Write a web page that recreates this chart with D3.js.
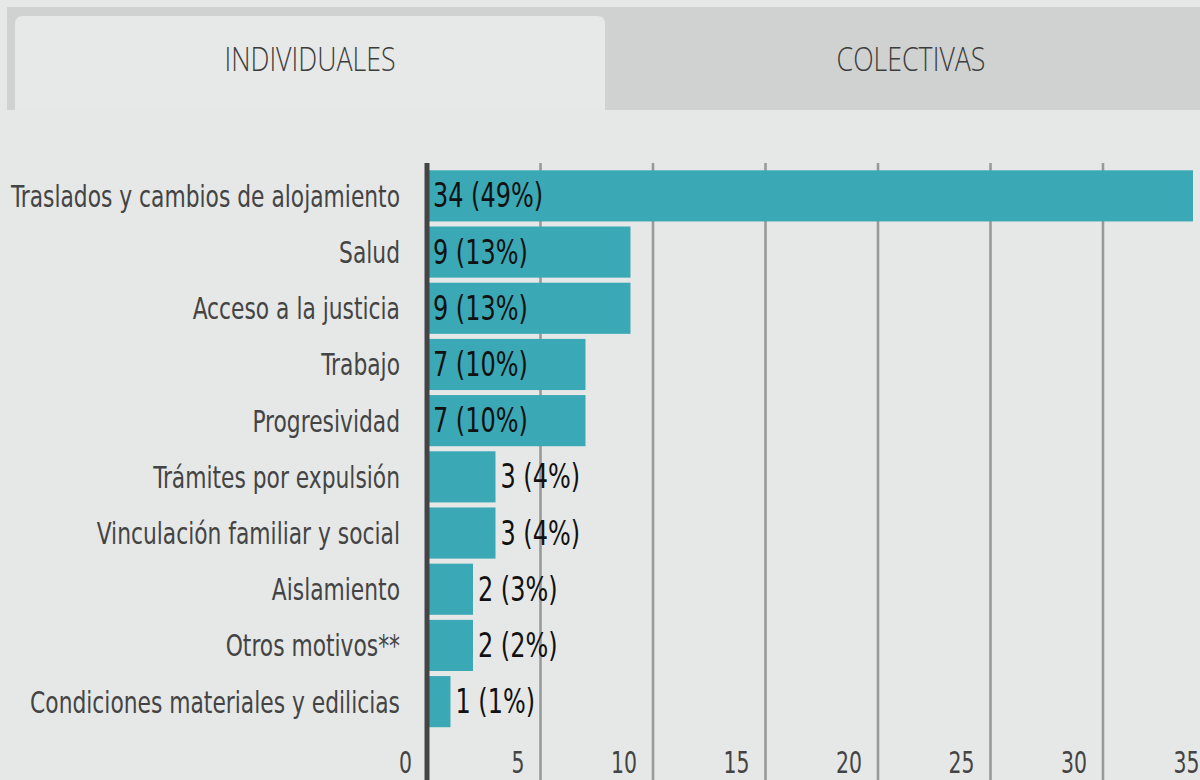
<!DOCTYPE html>
<html>
<head>
<meta charset="utf-8">
<script src="https://cdn.jsdelivr.net/npm/d3@7/dist/d3.min.js"></script>
<style>
  body { margin: 0; background: #e6e8e7; }
  svg { display: block; font-family: "DejaVu Sans Condensed", "DejaVu Sans", sans-serif; }
</style>
</head>
<body>
<div class="chartArea"></div>
<script>
  // chart data
  const categories = [
    "Traslados y cambios de alojamiento", "Salud", "Acceso a la justicia", "Trabajo",
    "Progresividad", "Trámites por expulsión", "Vinculación familiar y social",
    "Aislamiento", "Otros motivos**", "Condiciones materiales y edilicias"
  ];
  const values = [34, 9, 9, 7, 7, 3, 3, 2, 2, 1];
  const percents = [49, 13, 13, 10, 10, 4, 4, 3, 2, 1];
  const tickValues = [0, 5, 10, 15, 20, 25, 30, 35];
  const tabs = ["INDIVIDUALES", "COLECTIVAS"];

  const width = 1200, height = 780;
  const svg = d3.select(".chartArea").append("svg")
    .attr("width", width).attr("height", height);

  // squeeze a group of texts so that one sample text gets the wanted width
  function narrow(sel, sampleIndex, wanted) {
    const nodes = sel.nodes();
    const k = wanted / nodes[sampleIndex].getComputedTextLength();
    sel.each(function () {
      const w = this.getComputedTextLength();
      d3.select(this).attr("textLength", w * k).attr("lengthAdjust", "spacingAndGlyphs");
    });
  }

  // tabs
  svg.append("rect").attr("x", 7).attr("y", 7).attr("width", width - 7).attr("height", 103)
    .attr("fill", "#d0d2d1");
  svg.append("path")
    .attr("d", "M15,110 V24 Q15,16 23,16 H597 Q605,16 605,24 V110 Z")
    .attr("fill", "#e7e9e8");
  const tabText = svg.selectAll(".tab").data(tabs).enter().append("text")
    .attr("x", (d, i) => i === 0 ? 310 : 911)
    .attr("y", 71)
    .attr("text-anchor", "middle")
    .attr("font-family", "'Open Sans', sans-serif")
    .attr("font-weight", 300)
    .attr("font-size", 33.5)
    .attr("fill", "#3c3c3c")
    .text(d => d);
  narrow(tabText, 0, 171);

  // scales
  const x = d3.scaleLinear().domain([0, 35]).range([428, 1215.5]);
  const y = d3.scaleBand().domain(categories).range([167.5, 730]).paddingInner(0.09).paddingOuter(0.05);

  // grid lines
  svg.selectAll(".grid").data(tickValues.slice(1)).enter().append("line")
    .attr("x1", d => x(d)).attr("x2", d => x(d))
    .attr("y1", 163).attr("y2", height)
    .attr("stroke", "#999").attr("stroke-width", 2.6);

  // bars
  svg.selectAll(".bar").data(values).enter().append("rect")
    .attr("x", x(0))
    .attr("y", (d, i) => y(categories[i]))
    .attr("width", d => x(d) - x(0))
    .attr("height", y.bandwidth())
    .attr("fill", "#3ba8b5");

  // axis line
  svg.append("line").attr("x1", 427).attr("x2", 427).attr("y1", 163).attr("y2", height)
    .attr("stroke", "#444").attr("stroke-width", 5);

  // category labels
  const catText = svg.selectAll(".cat").data(categories).enter().append("text")
    .attr("x", 400)
    .attr("y", d => y(d) + y.bandwidth() / 2 + 11)
    .attr("text-anchor", "end")
    .attr("font-size", 31)
    .attr("fill", "#444")
    .text(d => d);
  narrow(catText, 0, 389);

  // value labels
  const valText = svg.selectAll(".val").data(values).enter().append("text")
    .attr("x", d => d >= 5 ? x(0) + 5 : x(d) + 5)
    .attr("y", (d, i) => y(categories[i]) + y.bandwidth() / 2 + 11.5)
    .attr("font-size", 33)
    .attr("fill", "#111")
    .text((d, i) => d + " (" + percents[i] + "%)");
  narrow(valText, 0, 110);

  // tick labels
  const tickText = svg.selectAll(".tick").data(tickValues).enter().append("text")
    .attr("x", d => x(d) - 16)
    .attr("y", 773)
    .attr("text-anchor", "end")
    .attr("font-size", 31)
    .attr("fill", "#444")
    .text(d => d);
  narrow(tickText, 2, 26);
</script>
</body>
</html>
